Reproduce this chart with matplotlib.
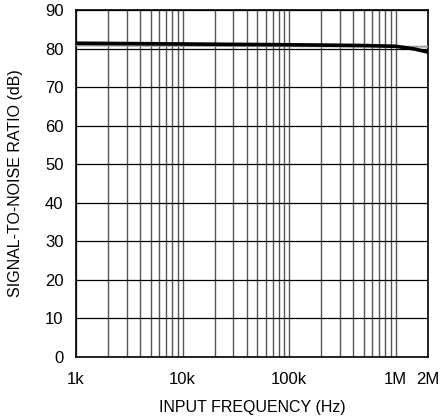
import matplotlib
matplotlib.use("Agg")
import matplotlib.pyplot as plt
from matplotlib import font_manager
import numpy as np

names = {f.name for f in font_manager.fontManager.ttflist}
fam = "Liberation Sans Narrow" if "Liberation Sans Narrow" in names else "Liberation Sans"
plt.rcParams['font.family'] = [fam, 'DejaVu Sans']

freq_black = [1e3, 1e4, 1e5, 5e5, 1e6, 1.5e6, 2e6]
snr_black = [81.4, 81.2, 81.0, 80.8, 80.6, 79.9, 79.1]
freq_gray = [1e3, 1e4, 1e5, 1e6, 2e6]
snr_gray = [80.8, 80.7, 80.6, 80.5, 80.5]

xticks = [1e3, 1e4, 1e5, 1e6, 2e6]
xticklabels = ["1k", "10k", "100k", "1M", "2M"]
yticks = list(range(0, 91, 10))

fig = plt.figure(figsize=(4.42, 4.19), dpi=100)
ax = fig.add_axes([0.172, 0.148, 0.796, 0.828])
ax.set_xscale('log')
ax.set_xlim(1e3, 2e6)
ax.set_ylim(0, 90)

# grid lines
minor = []
for dec in [1e3, 1e4, 1e5, 1e6]:
    for m in range(1, 10):
        v = dec * m
        if v <= 2e6:
            minor.append(v)
for v in minor:
    ax.axvline(v, color='#555555', lw=1.0, zorder=1)
for y in yticks:
    ax.axhline(y, color='black', lw=0.9, zorder=1)

ax.plot(freq_gray, snr_gray, color='#999999', lw=1.3, zorder=3)
ax.plot(freq_black, snr_black, color='black', lw=2.6, zorder=4)

ax.set_xticks(xticks)
ax.set_xticklabels(xticklabels)
ax.xaxis.set_minor_locator(matplotlib.ticker.NullLocator())
ax.set_yticks(yticks)
ax.tick_params(length=0, labelsize=12)
ax.tick_params(axis='x', pad=11)
ax.tick_params(axis='y', pad=9)
for s in ax.spines.values():
    s.set_linewidth(1.2)

ax.set_xlabel("INPUT FREQUENCY (Hz)", fontsize=11.5)
ax.set_ylabel("SIGNAL-TO-NOISE RATIO (dB)", fontsize=11.5)
ax.xaxis.set_label_coords(0.5, -0.125)
ax.yaxis.set_label_coords(-0.15, 0.5)

fig.savefig("out.png", dpi=100)
